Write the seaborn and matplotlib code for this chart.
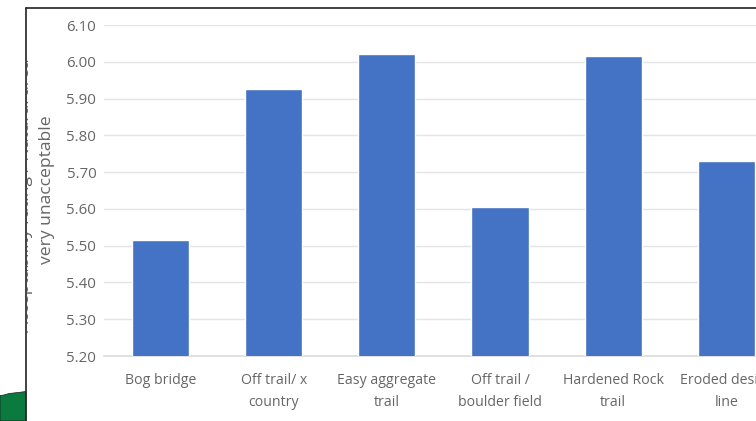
import matplotlib
matplotlib.use("Agg")
import matplotlib.pyplot as plt
import matplotlib.patches as mpatches
import pandas as pd
import seaborn as sns

categories = ["Bog bridge", "Off trail/ x\ncountry", "Easy aggregate\ntrail",
              "Off trail /\nboulder field", "Hardened Rock\ntrail", "Eroded desire\nline"]
ratings = [5.515, 5.925, 6.02, 5.605, 6.015, 5.73]
y_ticks = [5.2, 5.3, 5.4, 5.5, 5.6, 5.7, 5.8, 5.9, 6.0, 6.1]

W, H = 756, 421
sns.set_theme(style="white")
plt.rcParams["font.family"] = ["Open Sans", "DejaVu Sans"]
TEXT = "#666666"

fig = plt.figure(figsize=(W / 100, H / 100), dpi=100, facecolor="white")

# Black top and left edge of the white panel
fig.add_artist(plt.Line2D([26 / W, 26 / W], [0, 1 - 8 / H], color="#222222", lw=1.2))
fig.add_artist(plt.Line2D([26 / W, 1], [1 - 8 / H, 1 - 8 / H], color="#222222", lw=1.2))

# Green landmass in the lower left corner
outline = [(0, 421), (0, 395.5), (4, 395), (9, 393.5), (18, 392.5), (26, 391.5), (26, 421)]
fig.add_artist(mpatches.Polygon([(x / W, 1 - y / H) for x, y in outline], closed=True,
                                transform=fig.transFigure, facecolor="#0b7a3e",
                                edgecolor="#1a1a1a", lw=0.5))

ax = fig.add_axes([104 / W, 1 - 356 / H, (W - 104) / W, (356 - 25) / H])
ax.patch.set_alpha(0)
frame = pd.DataFrame({"surface": categories, "rating": ratings})
sns.barplot(data=frame, x="surface", y="rating", color="#4472C4", saturation=1,
            width=0.505, ax=ax, zorder=3)

ax.set_ylim(5.2, 6.1)
ax.set_xlim(-0.5, 5.262)
ax.set_yticks(y_ticks)
ax.set_yticklabels([f"{t:.2f}" for t in y_ticks], fontsize=10.8, color=TEXT)
ax.set_xticks(range(len(categories)))
ax.set_xticklabels(categories, fontsize=10.2, color=TEXT, linespacing=1.6)
ax.tick_params(axis="both", length=0)
ax.tick_params(axis="x", pad=12.5)
ax.tick_params(axis="y", pad=5.5)
ax.grid(axis="y", color="#e4e4e4", lw=1, zorder=0)
ax.set_axisbelow(True)
ax.set_xlabel("")
ax.set_ylabel("")
for spine in ax.spines.values():
    spine.set_visible(False)
ax.spines["bottom"].set_visible(True)
ax.spines["bottom"].set_color("#dcdcdc")

# Rotated axis title; its first line is cut by the panel edge
fig.text(47 / W, 1 - 190 / H, "very unacceptable", rotation=90, ha="center", va="center",
         fontsize=12.6, color=TEXT)
cut = fig.text(25 / W, 1 - 195 / H, "Acceptability rating / Natural area", rotation=90,
               ha="center", va="center", fontsize=12.6, color=TEXT)
cut.set_clip_path(mpatches.Rectangle((26.5, 0), W, H, transform=None))
cut.set_clip_on(True)

fig.savefig("out.png", dpi=100)
